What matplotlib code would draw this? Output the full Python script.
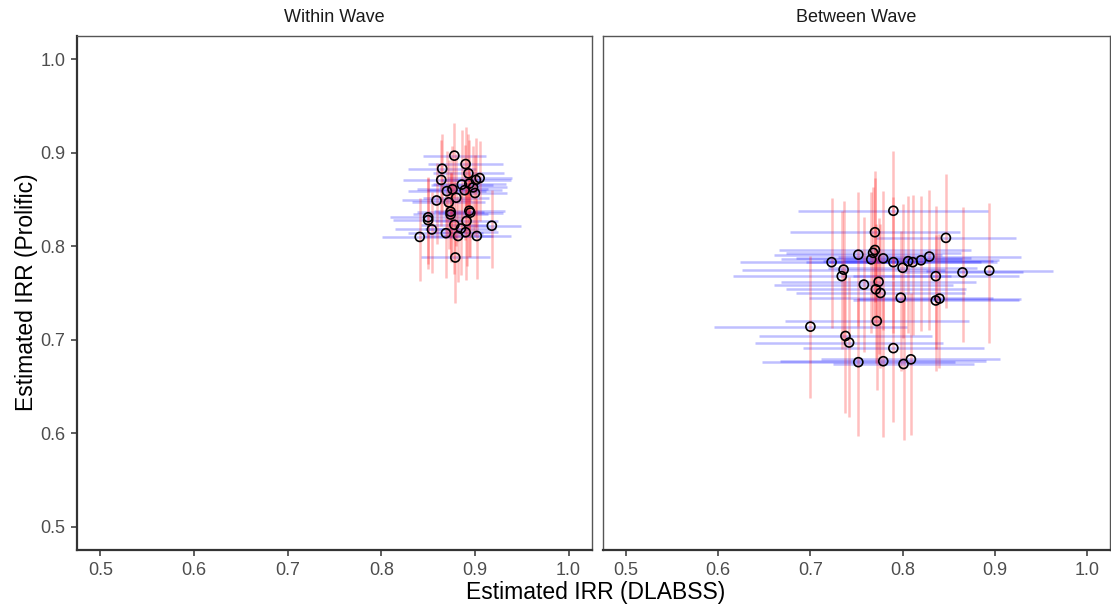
import matplotlib
matplotlib.use("Agg")
import matplotlib.pyplot as plt

# ---------------- data ----------------
panels = ["Within Wave", "Between Wave"]

within_x = [0.878, 0.890, 0.865, 0.893, 0.905, 0.901, 0.864, 0.886, 0.894, 0.898, 0.889, 0.900,
            0.876, 0.870, 0.880, 0.859, 0.872, 0.874, 0.874, 0.894, 0.895, 0.850, 0.850, 0.891,
            0.854, 0.878, 0.918, 0.885, 0.869, 0.890, 0.882, 0.902, 0.841, 0.879]
within_x_lo = [0.844, 0.850, 0.829, 0.855, 0.870, 0.864, 0.823, 0.853, 0.855, 0.862, 0.849, 0.866,
               0.838, 0.828, 0.845, 0.822, 0.833, 0.838, 0.834, 0.856, 0.860, 0.809, 0.813, 0.857,
               0.815, 0.842, 0.887, 0.847, 0.829, 0.855, 0.845, 0.866, 0.801, 0.842]
within_x_hi = [0.912, 0.930, 0.901, 0.931, 0.940, 0.938, 0.905, 0.919, 0.933, 0.934, 0.929, 0.934,
               0.914, 0.912, 0.915, 0.896, 0.911, 0.910, 0.914, 0.932, 0.930, 0.891, 0.887, 0.925,
               0.893, 0.914, 0.949, 0.923, 0.909, 0.925, 0.919, 0.938, 0.881, 0.916]
within_y = [0.897, 0.888, 0.883, 0.878, 0.873, 0.871, 0.871, 0.866, 0.867, 0.863, 0.860, 0.857,
            0.861, 0.859, 0.852, 0.849, 0.847, 0.837, 0.834, 0.838, 0.836, 0.831, 0.828, 0.827,
            0.818, 0.823, 0.822, 0.819, 0.814, 0.815, 0.811, 0.811, 0.810, 0.788]
within_y_lo = [0.852, 0.840, 0.837, 0.831, 0.827, 0.821, 0.822, 0.818, 0.815, 0.816, 0.807, 0.811,
               0.811, 0.810, 0.800, 0.802, 0.797, 0.789, 0.783, 0.789, 0.789, 0.781, 0.776, 0.779,
               0.771, 0.770, 0.777, 0.769, 0.766, 0.764, 0.762, 0.765, 0.763, 0.739]
within_y_hi = [0.932, 0.928, 0.920, 0.920, 0.913, 0.916, 0.914, 0.924, 0.914, 0.907, 0.908, 0.898,
               0.907, 0.902, 0.899, 0.889, 0.892, 0.879, 0.878, 0.884, 0.877, 0.874, 0.873, 0.869,
               0.858, 0.869, 0.860, 0.863, 0.855, 0.860, 0.854, 0.851, 0.852, 0.828]

between_x = [0.770, 0.770, 0.768, 0.766, 0.752, 0.723, 0.736, 0.734, 0.758, 0.774, 0.771, 0.776,
             0.700, 0.772, 0.738, 0.742, 0.752, 0.779, 0.790, 0.847, 0.779, 0.790, 0.806, 0.811,
             0.820, 0.829, 0.800, 0.836, 0.865, 0.894, 0.798, 0.836, 0.840, 0.790, 0.801, 0.809]
between_x_lo = [0.678, 0.666, 0.673, 0.668, 0.661, 0.624, 0.626, 0.616, 0.661, 0.668, 0.673, 0.684,
                0.595, 0.672, 0.644, 0.640, 0.647, 0.667, 0.687, 0.771, 0.684, 0.695, 0.714, 0.720,
                0.735, 0.730, 0.719, 0.746, 0.799, 0.825, 0.698, 0.746, 0.752, 0.692, 0.725, 0.712]
between_x_hi = [0.862, 0.874, 0.863, 0.864, 0.843, 0.822, 0.846, 0.852, 0.855, 0.880, 0.869, 0.868,
                0.805, 0.872, 0.832, 0.844, 0.857, 0.891, 0.893, 0.923, 0.874, 0.885, 0.898, 0.902,
                0.905, 0.928, 0.881, 0.926, 0.931, 0.963, 0.898, 0.926, 0.928, 0.888, 0.877, 0.906]
between_y = [0.815, 0.796, 0.793, 0.786, 0.791, 0.783, 0.775, 0.768, 0.759, 0.762, 0.754, 0.750,
             0.714, 0.720, 0.704, 0.697, 0.676, 0.677, 0.838, 0.809, 0.787, 0.783, 0.784, 0.783,
             0.785, 0.789, 0.777, 0.768, 0.772, 0.774, 0.745, 0.742, 0.744, 0.691, 0.674, 0.679]
between_y_lo = [0.740, 0.718, 0.717, 0.707, 0.715, 0.713, 0.699, 0.690, 0.687, 0.685, 0.675, 0.670,
                0.638, 0.646, 0.622, 0.617, 0.597, 0.596, 0.764, 0.734, 0.710, 0.707, 0.707, 0.705,
                0.709, 0.710, 0.702, 0.690, 0.698, 0.697, 0.667, 0.667, 0.670, 0.612, 0.593, 0.598]
between_y_hi = [0.881, 0.873, 0.863, 0.858, 0.858, 0.852, 0.848, 0.838, 0.831, 0.830, 0.824, 0.824,
                0.790, 0.788, 0.775, 0.767, 0.745, 0.749, 0.902, 0.877, 0.859, 0.853, 0.854, 0.855,
                0.854, 0.860, 0.845, 0.843, 0.842, 0.846, 0.816, 0.812, 0.813, 0.763, 0.744, 0.750]

x_ticks = [0.5, 0.6, 0.7, 0.8, 0.9, 1.0]
y_ticks = [0.5, 0.6, 0.7, 0.8, 0.9, 1.0]
tick_labels = ["0.5", "0.6", "0.7", "0.8", "0.9", "1.0"]

# ---------------- figure ----------------
plt.rcParams['font.family'] = ['Liberation Sans', 'DejaVu Sans']
W, H = 1111, 609
fig = plt.figure(figsize=(W / 100, H / 100), dpi=100)

def frac_box(x0, x1, ytop, ybot):
    return [x0 / W, 1 - ybot / H, (x1 - x0) / W, (ybot - ytop) / H]

ax1 = fig.add_axes(frac_box(77, 592, 36, 550))
ax2 = fig.add_axes(frac_box(603, 1110, 36, 550))

data = [
    (within_x, within_x_lo, within_x_hi, within_y, within_y_lo, within_y_hi),
    (between_x, between_x_lo, between_x_hi, between_y, between_y_lo, between_y_hi),
]

dark = '#333333'
for k, (ax, title, d) in enumerate(zip([ax1, ax2], panels, data)):
    x, xlo, xhi, y, ylo, yhi = d
    ax.hlines(y, xlo, xhi, colors='blue', alpha=0.25, linewidth=1.8, zorder=2)
    ax.vlines(x, ylo, yhi, colors='red', alpha=0.25, linewidth=1.8, zorder=3)
    ax.scatter(x, y, s=42, facecolors='none', edgecolors='black', linewidths=1.2, zorder=4)
    ax.set_xlim(0.475, 1.025)
    ax.set_ylim(0.475, 1.025)
    ax.set_xticks(x_ticks)
    ax.set_xticklabels(tick_labels)
    ax.set_yticks(y_ticks)
    ax.tick_params(axis='both', direction='out', length=4.5, width=1.1, color=dark,
                   labelsize=13, labelcolor='#4d4d4d', pad=4)
    for side in ['top', 'right']:
        ax.spines[side].set_color('#555555')
        ax.spines[side].set_linewidth(1.0)
    ax.spines['bottom'].set_color(dark)
    ax.spines['bottom'].set_linewidth(1.6)
    if k == 0:
        ax.spines['left'].set_color(dark)
        ax.spines['left'].set_linewidth(1.6)
        ax.set_yticklabels(tick_labels)
    else:
        ax.spines['left'].set_color('#555555')
        ax.spines['left'].set_linewidth(1.0)
        ax.tick_params(axis='y', left=False, labelleft=False)
    ax.text(0.5, 1 + 19 / 514, title, transform=ax.transAxes, ha='center', va='center',
            fontsize=13, color='#1a1a1a')

fig.text(596 / W, 1 - 593 / H, "Estimated IRR (DLABSS)", ha='center', va='center',
         fontsize=16.5, color='black')
fig.text(27 / W, 1 - 292 / H, "Estimated IRR (Prolific)", ha='center', va='center',
         rotation=90, fontsize=16.5, color='black')

fig.savefig("out.png", dpi=100)
